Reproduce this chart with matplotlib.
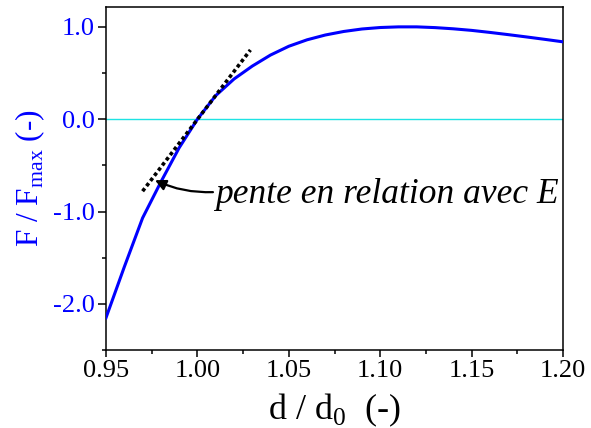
import numpy as np
import matplotlib
matplotlib.use('Agg')
import matplotlib.pyplot as plt
from matplotlib.ticker import MultipleLocator

# normalised force vs. normalised distance
d_ratio = [0.95, 0.96, 0.97, 0.98, 0.99, 1.00, 1.01, 1.02, 1.03, 1.04, 1.05,
           1.06, 1.07, 1.08, 1.09, 1.10, 1.11, 1.12, 1.13, 1.14, 1.15, 1.16,
           1.17, 1.18, 1.19, 1.20]
f_ratio = [-2.15, -1.60, -1.07, -0.68, -0.31, 0.00, 0.255, 0.435, 0.575, 0.695, 0.79,
           0.86, 0.912, 0.950, 0.977, 0.993, 1.000, 1.000, 0.992, 0.979, 0.962, 0.940,
           0.916, 0.891, 0.865, 0.838]

# tangent at d/d0 = 1
tangent_x = [0.970, 1.029]
tangent_y = [-0.78, 0.75]

plt.rcParams['font.family'] = ['Liberation Serif', 'DejaVu Serif']
plt.rcParams['mathtext.fontset'] = 'custom'
plt.rcParams['mathtext.rm'] = 'Liberation Serif'

fig = plt.figure(figsize=(5.91, 4.28), dpi=100)
ax = fig.add_axes([0.1794, 0.1822, 0.7732, 0.8014])

ax.axhline(0, color='#1ee3e3', linewidth=1.0, zorder=1)
ax.plot(d_ratio, f_ratio, color='#0000ff', linewidth=2.2, zorder=3)
ax.plot(tangent_x, tangent_y, color='k', linewidth=2.6, dashes=(1, 0.8),
        dash_capstyle='butt', zorder=4)

# label + curved arrow pointing at the tangent
ax.text(1.0095, -0.905, 'pente en relation avec E', fontsize=25.5,
        fontstyle='italic', ha='left', va='baseline')
ax.annotate('', xy=(0.9768, -0.661), xytext=(1.0085, -0.79),
            arrowprops=dict(arrowstyle='-|>', color='k', lw=1.6,
                            mutation_scale=16, shrinkA=0, shrinkB=0,
                            connectionstyle='arc3,rad=-0.12'))

ax.set_xlim(0.95, 1.20)
ax.set_ylim(-2.5, 1.215)
ax.xaxis.set_major_locator(MultipleLocator(0.05))
ax.xaxis.set_minor_locator(MultipleLocator(0.025))
ax.yaxis.set_major_locator(MultipleLocator(1.0))
ax.yaxis.set_minor_locator(MultipleLocator(0.5))
ax.xaxis.set_major_formatter(plt.FormatStrFormatter('%.2f'))
ax.yaxis.set_major_formatter(plt.FormatStrFormatter('%.1f'))

for s in ax.spines.values():
    s.set_linewidth(1.1)
ax.tick_params(which='major', direction='out', length=6, width=1.1, labelsize=19, pad=2)
ax.tick_params(which='minor', direction='out', length=3, width=1.1)
ax.tick_params(axis='x', which='major', length=5)
ax.tick_params(axis='y', labelcolor='#0000ff')

ax.set_xlabel('d / d$_{\\mathregular{0}}$  (-)', fontsize=26, labelpad=7)
ax.set_ylabel('F / F$_{\\mathregular{max}}$ (-)', fontsize=22.5, color='#0000ff', labelpad=4)

fig.savefig('out.png', dpi=100)
